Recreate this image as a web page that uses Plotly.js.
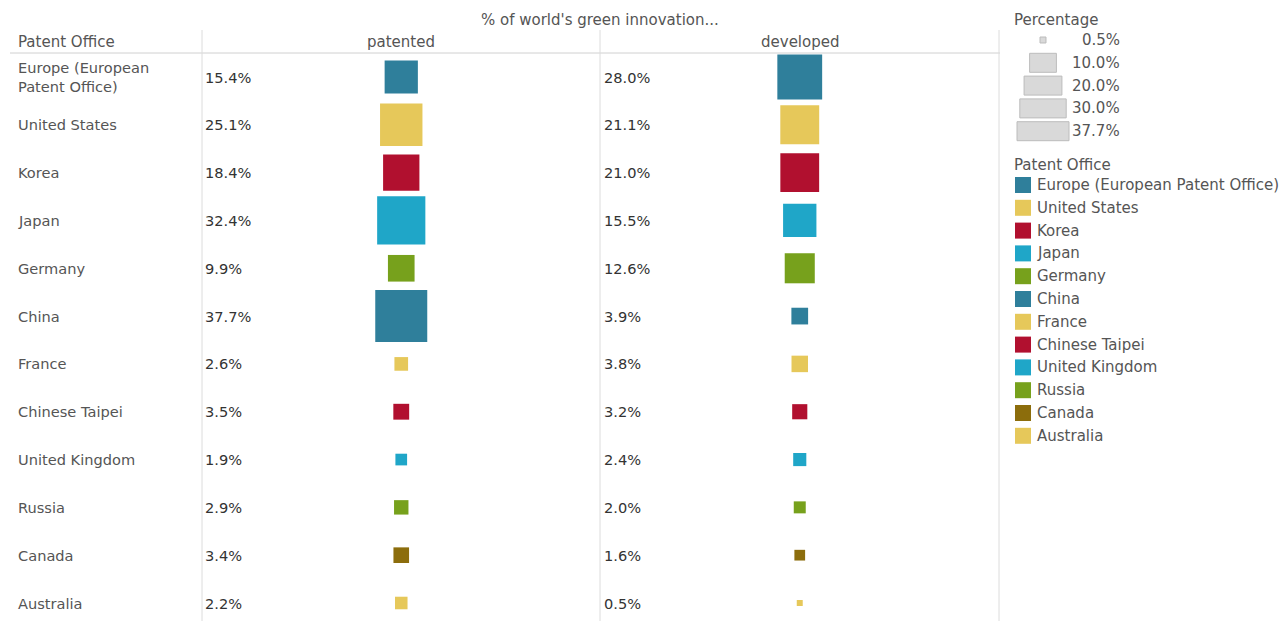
<!DOCTYPE html>
<html>
<head>
<meta charset="utf-8">
<script src="https://cdn.plot.ly/plotly-3.0.1.min.js"></script>
<style>
html,body{margin:0;padding:0;background:#fff;}
#chart{width:1279px;height:621px;}
</style>
</head>
<body>
<div id="chart"></div>
<script>
// ---- data ----
const offices = ["Europe (European Patent Office)", "United States", "Korea", "Japan", "Germany", "China",
  "France", "Chinese Taipei", "United Kingdom", "Russia", "Canada", "Australia"];
const officeLabels = ["Europe (European<br>Patent Office)", "United States", "Korea", "Japan", "Germany", "China",
  "France", "Chinese Taipei", "United Kingdom", "Russia", "Canada", "Australia"];
const patented = [15.4, 25.1, 18.4, 32.4, 9.9, 37.7, 2.6, 3.5, 1.9, 2.9, 3.4, 2.2];
const developed = [28.0, 21.1, 21.0, 15.5, 12.6, 3.9, 3.8, 3.2, 2.4, 2.0, 1.6, 0.5];
const officeColors = ["#2f7f9b", "#e6c85a", "#b1102f", "#1fa6c8", "#77a11c", "#2f7f9b",
  "#e6c85a", "#b1102f", "#1fa6c8", "#77a11c", "#8c6d0c", "#e6c85a"];
const measures = ["patented", "developed"];
const sizeLegendValues = [0.5, 10.0, 20.0, 30.0, 37.7];

// ---- geometry (pixels) ----
const W = 1279, H = 621;
const px = x => x / W;
const py = y => 1 - y / H;
const maxSide = 52;                  // side of the largest square (37.7%)
const maxVal = Math.max(...patented, ...developed);
const sizeref = 2 * maxVal / (maxSide * maxSide);
const rowTop = 77, rowStep = (603 - 77) / 11;
const yRange = [(H - rowTop) / rowStep, -rowTop / rowStep];

const FAM = "DejaVu Sans, sans-serif";
const labelFont = {family: FAM, size: 14.6, color: "#555555"};
const valueFont = {family: FAM, size: 14.6, color: "#333333"};
const headFont = {family: FAM, size: 15, color: "#555555"};

const traces = measures.map((m, k) => {
  const vals = k === 0 ? patented : developed;
  return {
    type: "scatter", mode: "markers",
    x: offices.map(() => m), y: offices,
    marker: {symbol: "square", size: vals, sizemode: "area", sizeref: sizeref,
      color: officeColors, opacity: 1, line: {width: 0}},
    cliponaxis: false, showlegend: false, hoverinfo: "x+y+text",
    text: vals.map(v => v.toFixed(1) + "%")
  };
});

const annotations = [];
const shapes = [];
// header texts
annotations.push({xref: "paper", yref: "paper", x: px(600), y: py(20), text: "% of world's green innovation...",
  showarrow: false, xanchor: "center", yanchor: "middle", font: headFont});
annotations.push({xref: "paper", yref: "paper", x: px(16), y: py(42), text: "Patent Office",
  showarrow: false, xanchor: "left", yanchor: "middle", font: headFont});
annotations.push({xref: "paper", yref: "paper", x: px(401), y: py(42), text: "patented",
  showarrow: false, xanchor: "center", yanchor: "middle", font: headFont});
annotations.push({xref: "paper", yref: "paper", x: px(800), y: py(42), text: "developed",
  showarrow: false, xanchor: "center", yanchor: "middle", font: headFont});

// row labels and values
offices.forEach((o, i) => {
  annotations.push({xref: "paper", yref: "y", x: px(16), y: o, text: officeLabels[i], showarrow: false,
    xanchor: "left", yanchor: "middle", align: "left", font: labelFont});
  annotations.push({xref: "paper", yref: "y", x: px(203), y: o, text: patented[i].toFixed(1) + "%", showarrow: false,
    xanchor: "left", yanchor: "middle", font: valueFont});
  annotations.push({xref: "paper", yref: "y", x: px(602), y: o, text: developed[i].toFixed(1) + "%", showarrow: false,
    xanchor: "left", yanchor: "middle", font: valueFont});
});

// grid lines
const lineCol = "#dcdcdc";
shapes.push({type: "line", xref: "paper", yref: "paper", x0: px(10), x1: px(1000), y0: py(53), y1: py(53),
  line: {color: "#d0d0d0", width: 1}});
[202, 600, 999].forEach(xp => {
  shapes.push({type: "line", xref: "paper", yref: "paper", x0: px(xp), x1: px(xp), y0: py(30), y1: py(621),
    line: {color: lineCol, width: 1}});
});

// size legend
annotations.push({xref: "paper", yref: "paper", x: px(1012), y: py(20), text: "Percentage", showarrow: false,
  xanchor: "left", yanchor: "middle", font: headFont});
sizeLegendValues.forEach((v, i) => {
  const yc = 40 + i * 22.8;
  const side = maxSide * Math.sqrt(v / maxVal);
  const h = Math.min(side, 19);
  const xc = 1043;
  shapes.push({type: "rect", xref: "paper", yref: "paper", x0: px(xc - side / 2), x1: px(xc + side / 2),
    y0: py(yc - h / 2), y1: py(yc + h / 2), fillcolor: "#d9d9d9", line: {color: "#bcbcbc", width: 1}});
  annotations.push({xref: "paper", yref: "paper", x: px(1122), y: py(yc), text: v.toFixed(1) + "%", showarrow: false,
    xanchor: "right", yanchor: "middle", font: headFont});
});

// colour legend
annotations.push({xref: "paper", yref: "paper", x: px(1012), y: py(165), text: "Patent Office", showarrow: false,
  xanchor: "left", yanchor: "middle", font: headFont});
offices.forEach((o, i) => {
  const yc = 185 + i * 22.8;
  shapes.push({type: "rect", xref: "paper", yref: "paper", x0: px(1015), x1: px(1031), y0: py(yc - 8), y1: py(yc + 8),
    fillcolor: officeColors[i], line: {width: 0}});
  annotations.push({xref: "paper", yref: "paper", x: px(1035), y: py(yc), text: o, showarrow: false,
    xanchor: "left", yanchor: "middle", font: headFont});
});

const layout = {
  width: W, height: H,
  margin: {l: 0, r: 0, t: 0, b: 0},
  paper_bgcolor: "#ffffff", plot_bgcolor: "rgba(0,0,0,0)",
  showlegend: false,
  xaxis: {type: "category", categoryorder: "array", categoryarray: measures, range: [-0.5, 1.5],
    domain: [px(202), px(999)], visible: false, fixedrange: true},
  yaxis: {type: "category", categoryorder: "array", categoryarray: offices, range: yRange,
    domain: [0, 1], visible: false, fixedrange: true},
  annotations: annotations,
  shapes: shapes
};

Plotly.newPlot("chart", traces, layout, {displayModeBar: false, staticPlot: true});
</script>
</body>
</html>
